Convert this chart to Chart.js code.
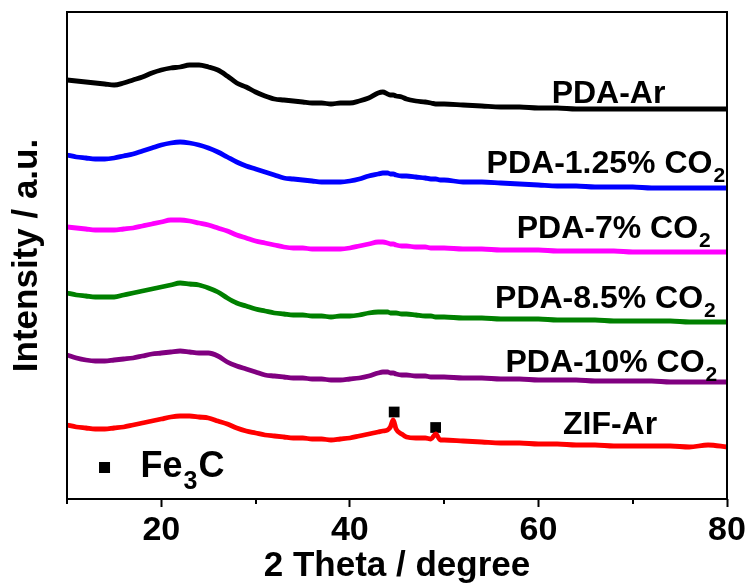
<!DOCTYPE html>
<html>
<head>
<meta charset="utf-8">
<script src="https://cdn.jsdelivr.net/npm/chart.js@4.4.1/dist/chart.umd.min.js"></script>
<style>
  html, body { margin: 0; padding: 0; background: #ffffff; }
  canvas { display: block; }
</style>
</head>
<body>
<canvas id="xrd" width="751" height="587"></canvas>
<script>
// 2θ positions (degree) shared by every pattern
const twoTheta = [10,11,12,13,14,15,16,17,18,19,20,21,22,23,24,25,26,27,28,29,30,31,32,33,34,35,36,37,38,39,40,41,42,43,
  43.5,44,44.3,44.6,44.9,45.5,46,47,48,48.6,49.1,49.6,
  50,52,54,56,58,60,62,64,66,68,70,72,74,76,78,80];

// Stacked, offset intensities (a.u.)
const pdaAr = [419,418,417,416,415,414,416,419,422,426,429,431,432,434,434,432,429,423,416,412,407,403,400,399,398,397,396,396,395,396,396,398,401,406,
  407,405,404,404,403,402,400,398,397,396,395,395,
  395,394,393,392,392,391,391,390,390,390,390,390,390,390,390,390];
const pda125 = [344,342,341,340,340,341,343,345,348,351,354,356,357,356,354,351,347,342,337,333,330,327,324,321,320,319,318,317,317,317,318,320,323,325,
  326,326,325,325,324,323,323,322,321,320,320,319,
  319,317,317,316,315,314,313,313,312,312,312,311,311,311,311,311];
const pda7 = [272,271,270,269,269,269,270,271,273,275,277,279,279,278,276,274,271,268,264,261,258,256,254,252,251,251,250,250,250,250,251,253,255,257,
  257,256,255,255,254,253,253,252,252,251,251,251,
  251,250,250,249,249,249,248,248,248,248,247,247,247,247,247,247];
const pda85 = [206,204,203,202,202,202,204,206,208,210,212,214,216,215,214,211,207,201,196,193,190,188,186,185,184,184,183,183,182,183,183,184,186,187,
  187,187,186,186,186,185,185,184,183,183,182,182,
  182,181,181,180,180,180,179,179,179,178,178,178,178,177,177,177];
const pda10 = [144,141,139,138,138,139,140,141,143,145,146,147,148,147,146,146,143,137,133,130,127,124,123,122,121,121,120,120,119,119,120,121,123,126,
  127,127,126,126,125,124,124,123,123,122,122,122,
  122,121,121,120,120,119,119,119,118,118,118,118,117,117,117,117];
const zifAr = [74,72,71,70,70,71,72,74,76,78,80,82,83,83,82,81,78,75,71,68,66,64,63,62,61,61,60,60,59,60,61,63,65,67,
  68,69,72,79,70,65,62,61,61,60,65,59,
  59,58,57,56,56,55,55,54,54,53,53,53,53,52,54,52];

// Fe3C reflections marked above the ZIF-Ar pattern
const fe3cTheta = [44.7, 49.1];
const fe3cLevel = [87, 71.5];

const seriesNames = ['PDA-Ar', 'PDA-1.25% CO2', 'PDA-7% CO2', 'PDA-8.5% CO2', 'PDA-10% CO2', 'ZIF-Ar'];
const seriesValues = [pdaAr, pda125, pda7, pda85, pda10, zifAr];
const seriesColors = ['#000000', '#0000ff', '#ff00ff', '#008000', '#800080', '#ff0000'];

const xTicks = [20, 40, 60, 80];
const xMinorTicks = [10, 30, 50, 70];

// text labels: main text, subscript, anchor (2θ, intensity) at left/baseline
const curveLabels = [
  { main: 'PDA-Ar', sub: '', x: 61.4, y: 396 },
  { main: 'PDA-1.25% CO', sub: '2', x: 54.5, y: 326 },
  { main: 'PDA-7% CO', sub: '2', x: 57.7, y: 261 },
  { main: 'PDA-8.5% CO', sub: '2', x: 55.4, y: 191 },
  { main: 'PDA-10% CO', sub: '2', x: 56.5, y: 127 },
  { main: 'ZIF-Ar', sub: '', x: 62.6, y: 65 }
];
const legendKey = { squareX: 13.98, squareY: 31.5, textX: 17.8, textY: 22 };

const FONT = '"Liberation Sans", Arial, Helvetica, sans-serif';

const datasets = seriesValues.map((vals, i) => ({
  label: seriesNames[i],
  data: twoTheta.map((t, k) => ({ x: t, y: vals[k] })),
  borderColor: seriesColors[i],
  backgroundColor: seriesColors[i],
  borderWidth: 4.8,
  pointRadius: 0,
  cubicInterpolationMode: 'monotone',
  fill: false
}));
datasets.push({
  label: 'Fe3C',
  type: 'scatter',
  data: fe3cTheta.map((t, k) => ({ x: t, y: fe3cLevel[k] })),
  pointStyle: 'rect',
  pointRadius: 7.6,
  backgroundColor: '#000000',
  borderColor: '#000000',
  borderWidth: 0,
  showLine: false
});

const decorations = {
  id: 'decorations',
  afterDatasetsDraw(chart) {
    const { ctx, chartArea: a, scales: { x, y } } = chart;
    ctx.save();
    // frame
    ctx.strokeStyle = '#000000';
    ctx.lineWidth = 2;
    ctx.strokeRect(a.left, a.top, a.right - a.left, a.bottom - a.top);
    // minor ticks
    ctx.beginPath();
    xMinorTicks.forEach(v => {
      const px = Math.round(x.getPixelForValue(v));
      ctx.moveTo(px, a.bottom);
      ctx.lineTo(px, a.bottom + 5);
    });
    ctx.stroke();

    // curve labels with subscripts
    ctx.fillStyle = '#000000';
    ctx.textBaseline = 'alphabetic';
    ctx.textAlign = 'left';
    curveLabels.forEach(l => {
      const px = x.getPixelForValue(l.x);
      const py = y.getPixelForValue(l.y);
      ctx.font = 'bold 32px ' + FONT;
      ctx.fillText(l.main, px, py);
      if (l.sub) {
        const w = ctx.measureText(l.main).width;
        ctx.font = 'bold 21px ' + FONT;
        ctx.fillText(l.sub, px + w + 1, py + 9);
      }
    });

    // Fe3C key
    const sx = x.getPixelForValue(legendKey.squareX);
    const sy = y.getPixelForValue(legendKey.squareY);
    ctx.fillRect(sx - 5.5, sy - 5.5, 11, 11);
    const tx = x.getPixelForValue(legendKey.textX);
    const ty = y.getPixelForValue(legendKey.textY);
    ctx.font = 'bold 36px ' + FONT;
    ctx.fillText('Fe', tx, ty);
    let w = ctx.measureText('Fe').width;
    ctx.font = 'bold 25px ' + FONT;
    ctx.fillText('3', tx + w + 1, ty + 12);
    const w3 = ctx.measureText('3').width;
    ctx.font = 'bold 36px ' + FONT;
    ctx.fillText('C', tx + w + w3 + 2, ty);
    ctx.restore();
  }
};

new Chart(document.getElementById('xrd'), {
  type: 'line',
  data: { datasets },
  plugins: [decorations],
  options: {
    responsive: false,
    animation: false,
    events: [],
    layout: { padding: { top: 12, right: 24, left: 0, bottom: 0 } },
    plugins: { legend: { display: false }, tooltip: { enabled: false } },
    scales: {
      x: {
        type: 'linear',
        min: 10,
        max: 80,
        afterFit(scale) { scale.height = 88; },
        afterBuildTicks(scale) {
          scale.ticks = xTicks.map(v => ({ value: v }));
        },
        ticks: {
          autoSkip: false,
          maxRotation: 0,
          padding: 3,
          color: '#000000',
          font: { family: FONT, size: 34, weight: 'bold' }
        },
        grid: {
          drawOnChartArea: false,
          drawTicks: true,
          tickLength: 8,
          tickWidth: 2,
          tickColor: '#000000'
        },
        border: { display: false },
        title: {
          display: true,
          text: '2 Theta / degree',
          color: '#000000',
          padding: { top: 0, bottom: 0 },
          font: { family: FONT, size: 35, weight: 'bold' }
        }
      },
      y: {
        type: 'linear',
        min: 0,
        max: 487,
        afterFit(scale) { scale.width = 67; },
        ticks: { display: false },
        grid: { display: false },
        border: { display: false },
        title: {
          display: true,
          text: 'Intensity / a.u.',
          color: '#000000',
          padding: { top: 6, bottom: 0 },
          font: { family: FONT, size: 35, weight: 'bold' }
        }
      }
    }
  }
});
</script>
</body>
</html>
